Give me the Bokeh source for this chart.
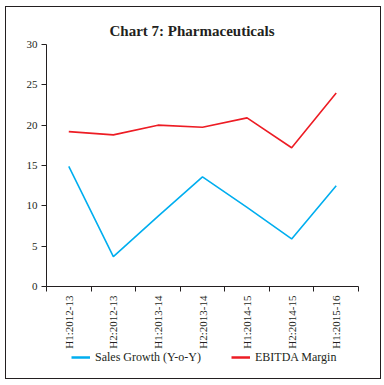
from bokeh.plotting import figure
from bokeh.models import FixedTicker, Legend, LegendItem, Range1d
from bokeh.layouts import column
from bokeh.embed import file_html
from bokeh.resources import INLINE
import math

categories = ["H1:2012-13", "H2:2012-13", "H1:2013-14", "H2:2013-14",
              "H1:2014-15", "H2:2014-15", "H1:2015-16"]
sales_growth = [14.9, 3.7, 8.7, 13.6, 9.8, 5.9, 12.5]
ebitda_margin = [19.2, 18.8, 20.0, 19.75, 20.9, 17.2, 24.0]
y_ticks = [0, 5, 10, 15, 20, 25, 30]
series_names = ["Sales Growth (Y-o-Y)", "EBITDA Margin"]
series_colors = ["#00aeef", "#ed1c24"]

x = list(range(len(categories)))
FONT = "Liberation Serif"
NAN = float("nan")

p = figure(width=374, height=344, output_backend="svg", toolbar_location=None,
           x_range=Range1d(-0.5, len(categories) - 0.5), y_range=Range1d(0, 30),
           min_border_left=40, min_border_right=22, min_border_top=37, min_border_bottom=64)

p.title.text = "Chart 7: Pharmaceuticals"
p.title.align = "left"
p.title.offset = 63
p.title.vertical_align = "middle"
p.title.text_font = FONT
p.title.text_font_size = "15px"
p.title.text_font_style = "bold"
p.title.text_color = "#231f20"

p.outline_line_color = None
p.xgrid.visible = False
p.ygrid.visible = False

p.line(x, sales_growth, line_color=series_colors[0], line_width=1.6)
p.line(x, ebitda_margin, line_color=series_colors[1], line_width=1.6)

xa = p.xaxis[0]
xa.ticker = FixedTicker(ticks=x, minor_ticks=[i - 0.5 for i in range(len(categories) + 1)])
xa.major_label_overrides = {i: c for i, c in enumerate(categories)}
xa.major_label_orientation = math.pi / 2
xa.major_tick_out = 0
xa.major_tick_in = 0
xa.minor_tick_out = 5
xa.minor_tick_in = 0
xa.axis_line_color = "#231f20"
xa.minor_tick_line_color = "#231f20"
xa.major_label_text_font = FONT
xa.major_label_text_font_size = "11px"
xa.major_label_text_color = "#231f20"
xa.major_label_standoff = 4

ya = p.yaxis[0]
ya.ticker = FixedTicker(ticks=y_ticks)
ya.major_tick_out = 5
ya.major_tick_in = 0
ya.minor_tick_line_color = None
ya.axis_line_color = "#231f20"
ya.major_tick_line_color = "#231f20"
ya.major_label_text_font = FONT
ya.major_label_text_font_size = "11px"
ya.major_label_text_color = "#231f20"
ya.major_label_standoff = 4

# legend strip
p2 = figure(width=374, height=27, output_backend="svg", toolbar_location=None,
            x_range=Range1d(0, 1), y_range=Range1d(0, 1),
            min_border_left=0, min_border_right=0, min_border_top=0, min_border_bottom=0)
p2.axis.visible = False
p2.grid.visible = False
p2.outline_line_color = None
lr = [p2.line([NAN], [NAN], line_color=c, line_width=2.5) for c in series_colors]

legend = Legend(items=[LegendItem(label=n, renderers=[r]) for n, r in zip(series_names, lr)],
                orientation="horizontal", location=(25, 11))
legend.border_line_color = None
legend.background_fill_alpha = 0
legend.label_text_font = FONT
legend.label_text_font_size = "12px"
legend.label_text_color = "#231f20"
legend.glyph_width = 19
legend.label_standoff = 5
legend.spacing = 30
legend.padding = 2
legend.margin = 0
p2.add_layout(legend, "center")

layout = column(p, p2, spacing=0)
layout.styles = {"border": "1px solid #231f20", "margin-left": "5px", "margin-top": "6px"}

open("out.html", "w").write(file_html(layout, INLINE))
